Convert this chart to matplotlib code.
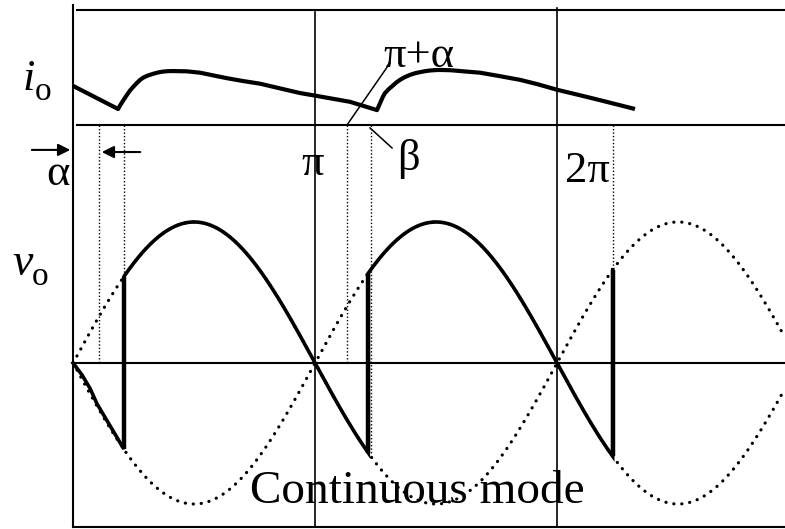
import numpy as np
import matplotlib
matplotlib.use("Agg")
import matplotlib.pyplot as plt

plt.rcParams['font.family'] = ['Liberation Serif', 'DejaVu Serif']

# angles are in units of pi
x_left, x_right = -0.302, 2.942
y_bottom, y_top = -1.177, 2.574

# firing points where v_o jumps from one half of the supply to the other
jumps = [0.21, 1.22, 2.23]
# dotted guides on the alpha/pi+alpha side
guides = [0.107, 1.132]
beta_guide = 1.23

# v_o before the first firing (commutation ripple)
vo0_x = [0.0, 0.037, 0.070, 0.099, 0.21]
vo0_y = [0.0, -0.085, -0.18, -0.29, -0.61]

# load current i_o (relative units, peak = 1)
io_x = [0.0, 0.186, 0.195, 0.205, 0.214, 0.223, 0.236, 0.250, 0.263, 0.277,
        0.290, 0.304, 0.317, 0.331, 0.352, 0.372, 0.392, 0.413,
        0.470, 0.525, 0.580, 0.636, 0.700, 0.773, 0.850, 0.938, 1.004,
        1.075, 1.145, 1.256,
        1.264, 1.272, 1.280, 1.289, 1.304, 1.320, 1.335, 1.351, 1.371,
        1.392, 1.413, 1.434, 1.455, 1.475, 1.496, 1.517,
        1.560, 1.600, 1.640, 1.682, 1.760, 1.847, 1.920, 2.000, 2.090,
        2.178, 2.250, 2.322]
io_v = [0.71, 0.29, 0.36, 0.43, 0.49, 0.55, 0.63, 0.70, 0.76, 0.82,
        0.86, 0.89, 0.91, 0.93, 0.955, 0.97, 0.978, 0.98,
        0.975, 0.95, 0.90, 0.85, 0.80, 0.75, 0.67, 0.58, 0.53,
        0.475, 0.42, 0.27,
        0.35, 0.43, 0.51, 0.58, 0.65, 0.71, 0.77, 0.82, 0.87,
        0.91, 0.94, 0.96, 0.978, 0.99, 0.997, 1.00,
        0.995, 0.98, 0.965, 0.95, 0.89, 0.82, 0.74, 0.64, 0.545,
        0.45, 0.37, 0.29]
io_base = 1.688
io_scale = 0.39

fig = plt.figure(figsize=(7.85, 5.29), dpi=100)
ax = fig.add_axes([0, 0, 1, 1])
ax.set_xlim(x_left, x_right)
ax.set_ylim(y_bottom, y_top)
ax.axis('off')

k = 'black'
frame_top, frame_bot = 2.504, -1.163
# frame and axes
ax.plot([0, 0], [2.539, frame_bot], color=k, lw=1.5)
ax.plot([0.0165, x_right], [frame_top, frame_top], color=k, lw=1.5)
ax.plot([0, x_right], [frame_bot, frame_bot], color=k, lw=1.5)
ax.plot([0.0165, x_right], [io_base, io_base], color=k, lw=1.5)
ax.plot([0, x_right], [0, 0], color=k, lw=1.5)
ax.plot([1, 1], [2.489, frame_bot], color=k, lw=1.2)
ax.plot([2, 2], [2.518, frame_bot], color=k, lw=1.2)

# supply voltage +/- v_s, dotted
th = np.linspace(0, x_right, 800)
for sgn in (1, -1):
    ax.plot(th, sgn * np.sin(np.pi * th), color=k, lw=2.3,
            linestyle=(0, (0.05, 2.45)), dash_capstyle='round')

# thin dotted guides
thin = dict(color=k, lw=1.0, linestyle=(0, (1, 1.5)))
for g in guides:
    ax.plot([g, g], [io_base, 0], **thin)
ax.plot([jumps[0], jumps[0]], [io_base, np.sin(np.pi * jumps[0])], **thin)
ax.plot([beta_guide, beta_guide], [io_base, np.sin(np.pi * jumps[1])], **thin)
ax.plot([jumps[2], jumps[2]], [io_base, -np.sin(np.pi * jumps[2])], **thin)

# output voltage v_o
t1 = np.linspace(jumps[0], jumps[1], 300)
t2 = np.linspace(jumps[1], jumps[2], 300)
vx = np.concatenate([vo0_x, t1, t2, [jumps[2]]])
vy = np.concatenate([vo0_y, np.sin(np.pi * t1), -np.sin(np.pi * t2),
                     [np.sin(np.pi * jumps[2])]])
ax.plot(vx, vy, color=k, lw=2.6, solid_joinstyle='miter')
# commutation edges drawn a little heavier
for j in jumps:
    s = abs(np.sin(np.pi * j))
    ax.plot([j, j], [-s, s], color=k, lw=3.2, solid_capstyle='butt')

# load current
ax.plot(io_x, io_base + io_scale * np.array(io_v), color=k, lw=3.0,
        solid_joinstyle='round', solid_capstyle='butt')

# leaders
ax.plot([guides[1], 1.310], [io_base, 2.128], color=k, lw=1.1)
ax.plot([1.227, 1.318], [1.667, 1.525], color=k, lw=1.1)

# alpha arrows
ap = dict(arrowstyle='-|>', color=k, lw=1.5, mutation_scale=18)
ax.annotate('', xy=(0, 1.511), xytext=(-0.182, 1.511), arrowprops=ap)
ax.annotate('', xy=(guides[0], 1.496), xytext=(0.289, 1.496), arrowprops=ap)

fs = 32
ax.text(-0.062, 1.262, 'α', fontsize=fs, ha='center', va='baseline')
ax.text(0.988, 1.333, 'π', fontsize=fs, ha='center', va='baseline')
ax.text(2.033, 1.284, '2π', fontsize=fs, ha='left', va='baseline')
ax.text(1.281, 2.099, 'π+α', fontsize=fs, ha='left', va='baseline')
ax.text(1.339, 1.369, 'β', fontsize=fs, ha='left', va='baseline')

ax.text(-0.211, 1.936, 'i', fontsize=32, style='italic', va='baseline')
ax.text(-0.157, 1.865, 'o', fontsize=24, va='baseline')
ax.text(-0.252, 0.624, 'v', fontsize=33, style='italic', va='baseline')
ax.text(-0.169, 0.553, 'o', fontsize=24, va='baseline')

ax.text(0.731, -0.993, 'Continuous mode', fontsize=34, va='baseline')

fig.savefig('out.png', dpi=100)
